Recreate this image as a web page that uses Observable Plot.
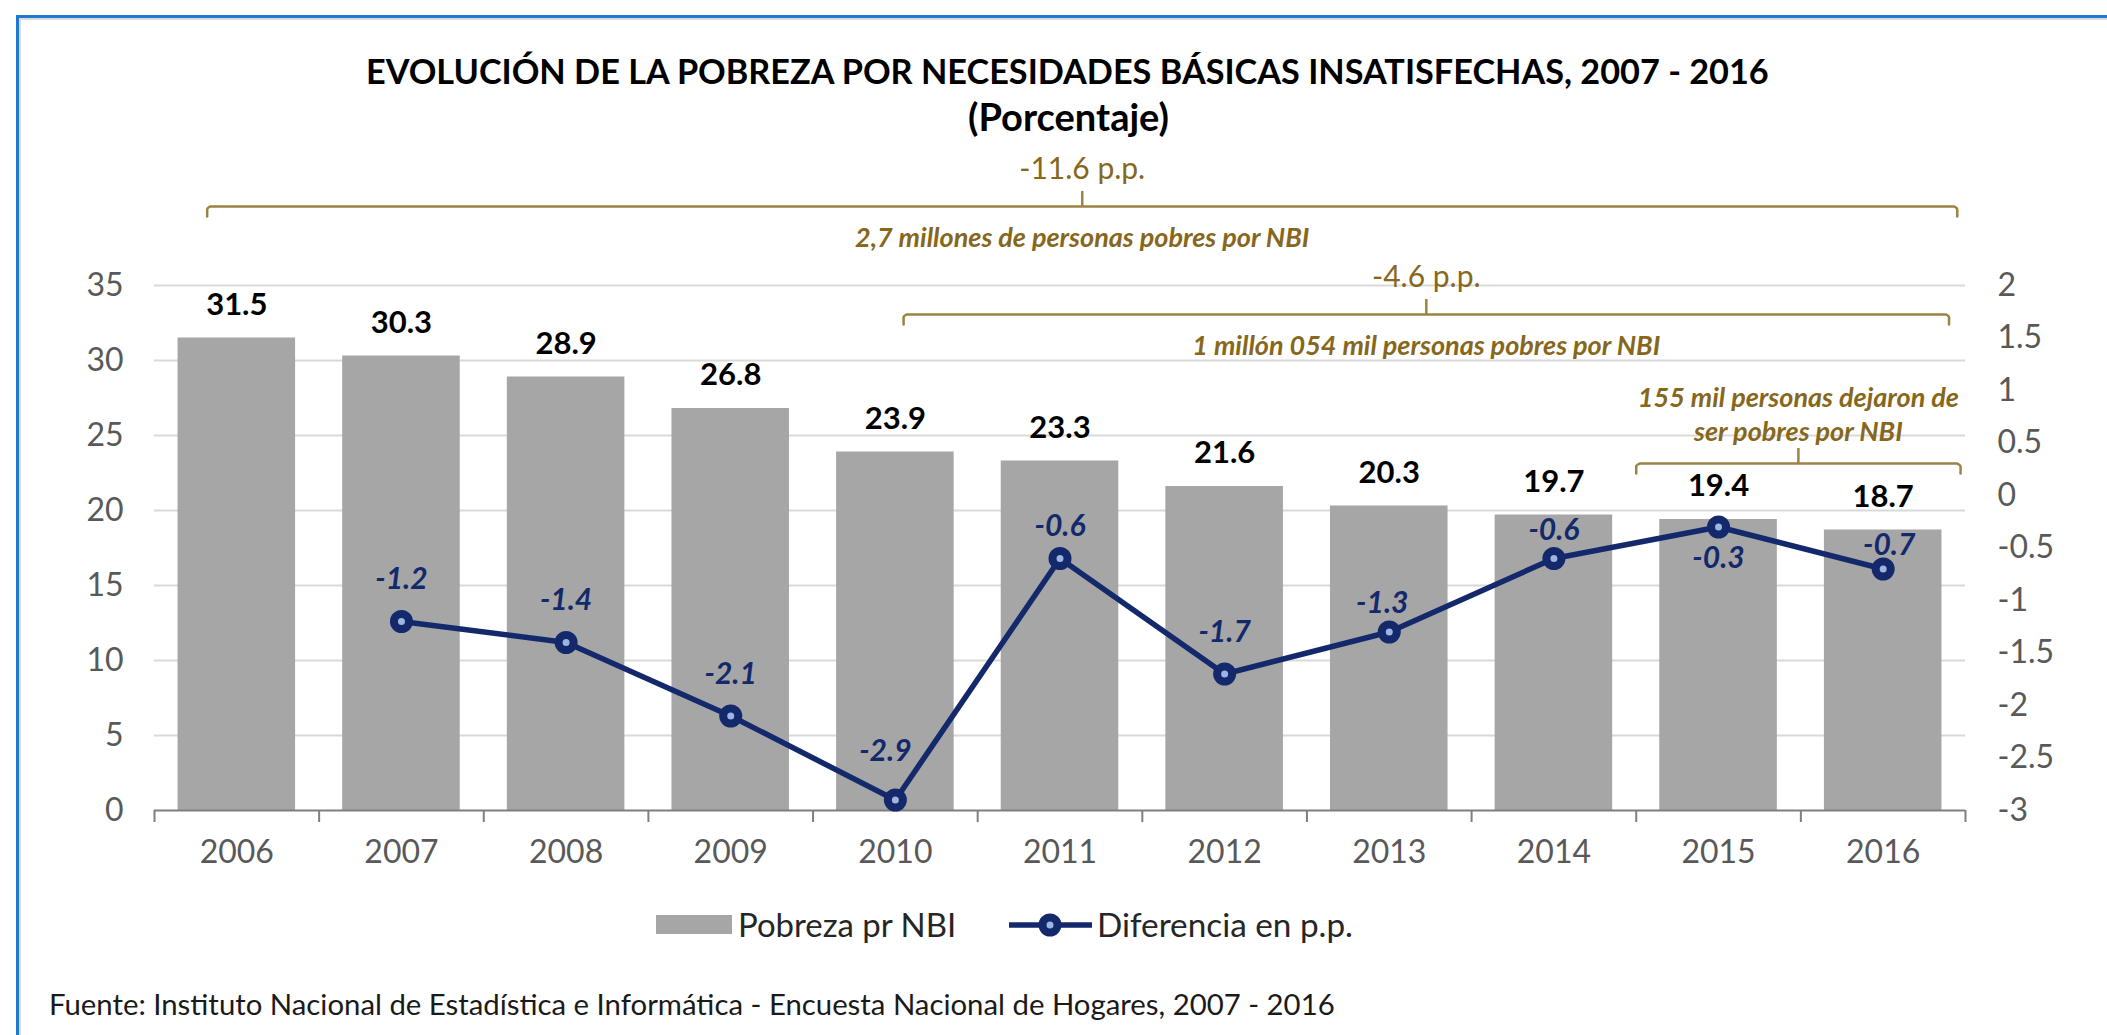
<!DOCTYPE html>
<html>
<head>
<meta charset="utf-8">
<script src="https://cdn.jsdelivr.net/npm/d3@7"></script>
<script src="https://cdn.jsdelivr.net/npm/@observablehq/plot@0.6"></script>
<style>
html, body { margin: 0; padding: 0; background: #fff; }
body { width: 2107px; height: 1035px; position: relative; overflow: hidden; font-family: Lato, "Open Sans", sans-serif; }
.t { position: absolute; white-space: nowrap; line-height: 40px; height: 40px; }
#frame { position: absolute; left: 16px; top: 15px; width: 2300px; height: 1200px; border-top: 3px solid #1F78D1; border-left: 3px solid #1F78D1; pointer-events: none; }
#frame2 { position: absolute; left: 19px; top: 18px; width: 2300px; height: 1200px; border-top: 2px solid #DADADA; border-left: 2px solid #DADADA; pointer-events: none; }
#chart { position: absolute; left: 0; top: 140px; }
.sw { position: absolute; }
</style>
</head>
<body>
<div id="title" class="t" style="left:366px;top:51px;font-weight:700;color:#000;" data-w="1405">EVOLUCIÓN DE LA POBREZA POR NECESIDADES BÁSICAS INSATISFECHAS, 2007 - 2016</div>
<div id="subtitle" class="t" style="left:968px;top:96px;font-weight:700;color:#000;" data-w="201">(Porcentaje)</div>
<div id="chart"></div>
<div class="sw" style="left:656px;top:915px;width:76px;height:19px;background:#A6A6A6;"></div>
<div id="leg1" class="t" style="left:738px;top:904px;color:#262626;" data-w="219">Pobreza pr NBI</div>
<svg class="sw" style="left:1009px;top:910px;" width="84" height="30">
  <line x1="0" y1="15" x2="83" y2="15" stroke="#13296B" stroke-width="5.5"></line>
  <circle cx="41" cy="15" r="7.5" fill="#9DB5E0" stroke="#13296B" stroke-width="8"></circle>
</svg>
<div id="leg2" class="t" style="left:1097px;top:904px;color:#262626;" data-w="256">Diferencia en p.p.</div>
<div id="caption" class="t" style="left:49px;top:984px;color:#1a1a1a;" data-w="1286">Fuente: Instituto Nacional de Estadística e Informática - Encuesta Nacional de Hogares, 2007 - 2016</div>
<div id="frame"></div>
<div id="frame2"></div>
<script>
// ---- Data ----
const anios = [2006, 2007, 2008, 2009, 2010, 2011, 2012, 2013, 2014, 2015, 2016];
const pobrezaNBI = [31.5, 30.3, 28.9, 26.8, 23.9, 23.3, 21.6, 20.3, 19.7, 19.4, 18.7];
const aniosDif = [2007, 2008, 2009, 2010, 2011, 2012, 2013, 2014, 2015, 2016];
const diferenciaPP = [-1.2, -1.4, -2.1, -2.9, -0.6, -1.7, -1.3, -0.6, -0.3, -0.7];
const ticksIzq = [0, 5, 10, 15, 20, 25, 30, 35];
const ticksDer = [-3, -2.5, -2, -1.5, -1, -0.5, 0, 0.5, 1, 1.5, 2];
const notasArriba = ["-11.6 p.p.", "-4.6 p.p.", "155 mil personas dejaron de\nser pobres por NBI"];
const notasAbajo = ["2,7 millones de personas pobres por NBI", "1 millón 054 mil personas pobres por NBI", ""];

// ---- Fit HTML text widths ----
const cv = document.createElement("canvas").getContext("2d");
document.querySelectorAll("[data-w]").forEach(el => {
  const cs = getComputedStyle(el);
  cv.font = `${cs.fontStyle} ${cs.fontWeight} 100px ${cs.fontFamily}`;
  const m = cv.measureText(el.textContent).width;
  el.style.fontSize = (100 * (+el.dataset.w) / m).toFixed(2) + "px";
});

// ---- Derived ----
const barras = anios.map((a, i) => ({anio: a, valor: pobrezaNBI[i]}));
const dif = aniosDif.map((a, i) => ({anio: a, valor: diferenciaPP[i]}));
const yMax = 35, dMin = -3, dMax = 2;
const toLeft = v => (v - dMin) * yMax / (dMax - dMin);
const fromLeft = v => +(v * (dMax - dMin) / yMax + dMin).toFixed(1);
const limites = d3.range(anios.length + 1).map(i => anios[0] - 0.5 + i);
const half = 0.357;

// layout of annotation braces (x in years, level in left-axis units)
const llaves = [
  {x1: 2005.82, x2: 2016.45, nivel: 40.27},
  {x1: 2010.05, x2: 2016.40, nivel: 33.07},
  {x1: 2014.50, x2: 2016.47, nivel: 23.13}
].map((b, i) => ({...b, arriba: notasArriba[i], abajo: notasAbajo[i], xc: (b.x1 + b.x2) / 2}));

const navy = "#13296B";
const olive = "#86671B";
const braceColor = "#9A8444";
const labelOffsets = {2010: [-10, -49], 2011: [0, -32], 2013: [-7, -29], 2014: [0, -28], 2015: [0, 31], 2016: [6, -24]};

const braceMarks = llaves.flatMap(b => [
  Plot.line([[b.x1, b.nivel - 0.67], [b.x1, b.nivel - 0.2], [b.x1 + 0.02, b.nivel], [b.x2 - 0.02, b.nivel], [b.x2, b.nivel - 0.2], [b.x2, b.nivel - 0.67]],
    {stroke: braceColor, strokeWidth: 2.5, curve: "monotone-y"}),
  Plot.ruleX([b.xc], {y1: b.nivel, y2: b.nivel + 1.0, stroke: braceColor, strokeWidth: 2.5})
]);

const difLabelMarks = dif.map(d => {
  const [dx, dy] = labelOffsets[d.anio] || [0, -42];
  return Plot.text([d], {x: "anio", y: r => toLeft(r.valor), text: r => String(r.valor), dx, dy,
    fill: navy, fontWeight: 700, fontStyle: "italic", fontSize: 30});
});

const chart = Plot.plot({
  width: 2107,
  height: 740,
  marginTop: 145,
  marginBottom: 70,
  marginLeft: 154,
  marginRight: 142,
  style: {fontFamily: "Lato, 'Open Sans', sans-serif", fontSize: "32px", background: "transparent", overflow: "visible"},
  x: {type: "linear", domain: [anios[0] - 0.5, anios[anios.length - 1] + 0.5]},
  y: {domain: [0, yMax]},
  marks: [
    Plot.ruleY(ticksIzq.filter(d => d > 0), {stroke: "#D9D9D9", strokeWidth: 2}),
    Plot.rectY(barras, {x1: d => d.anio - half, x2: d => d.anio + half, y: "valor", fill: "#A6A6A6"}),
    Plot.ruleY([0], {stroke: "#7F7F7F", strokeWidth: 2}),
    Plot.axisX(limites, {tickSize: 12, tickFormat: () => "", label: null, stroke: "#7F7F7F", strokeWidth: 2}),
    Plot.axisX(anios, {tickSize: 0, tickPadding: 30, tickFormat: d => String(d), label: null, color: "#595959", fontSize: 32}),
    Plot.axisY(ticksIzq, {anchor: "left", tickSize: 0, tickPadding: 31, tickFormat: d => String(d), label: null, color: "#595959", fontSize: 32}),
    Plot.axisY(ticksDer.map(toLeft), {anchor: "right", tickSize: 0, tickPadding: 32, tickFormat: v => String(fromLeft(v)), label: null, color: "#595959", fontSize: 32}),
    Plot.text(barras, {x: "anio", y: "valor", text: d => d.valor.toFixed(1), dy: -33, fill: "#000", fontWeight: 700, fontSize: 31}),
    Plot.line(dif, {x: "anio", y: d => toLeft(d.valor), stroke: navy, strokeWidth: 5.5}),
    Plot.dot(dif, {x: "anio", y: d => toLeft(d.valor), r: 7.5, stroke: navy, strokeWidth: 8, fill: "#9DB5E0"}),
    ...difLabelMarks,
    ...braceMarks,
    Plot.text(llaves.slice(0, 2), {x: "xc", y: "nivel", text: "arriba", dy: -37, fill: olive, fontSize: 30}),
    Plot.text(llaves.slice(0, 2), {x: "xc", y: "nivel", text: "abajo", dy: 32, fill: olive, fontWeight: 700, fontStyle: "italic", fontSize: 27}),
    Plot.text(llaves.slice(2), {x: "xc", y: "nivel", text: "arriba", dy: -50, lineHeight: 1.25, fill: olive, fontWeight: 700, fontStyle: "italic", fontSize: 27})
  ]
});
document.getElementById("chart").appendChild(chart);
</script>
</body>
</html>
